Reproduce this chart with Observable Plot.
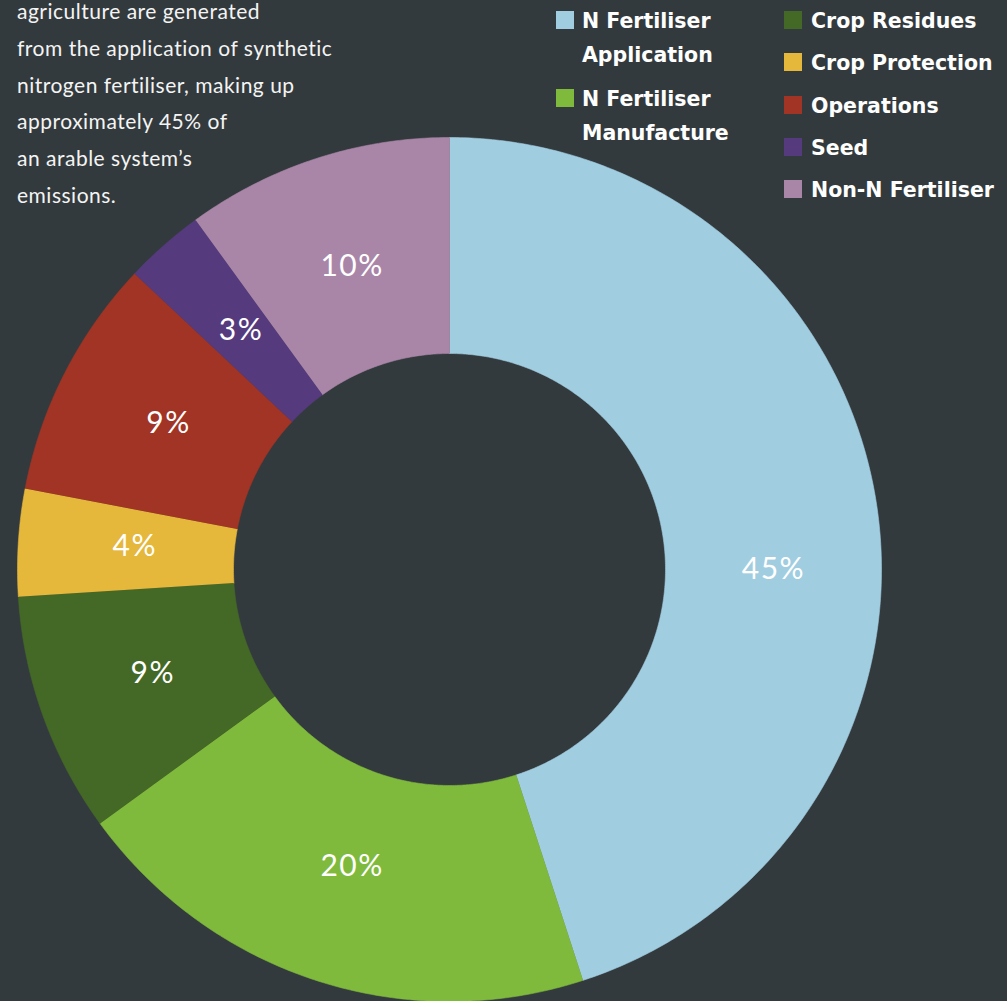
<!DOCTYPE html>
<html>
<head>
<meta charset="utf-8">
<script src="https://cdn.jsdelivr.net/npm/d3@7"></script>
<script src="https://cdn.jsdelivr.net/npm/@observablehq/plot@0.6"></script>
<style>
  html, body { margin: 0; padding: 0; background: #333a3d; width: 1007px; height: 1001px; overflow: hidden; }
  #wrap { position: relative; width: 1007px; height: 1001px; }
  #chart { position: absolute; left: 0; top: 0; }
  .note { position: absolute; left: 17px; top: -7px; color: #f4f4f4; font-family: Lato, sans-serif; font-size: 21px; letter-spacing: 0.5px; line-height: 36.8px; white-space: nowrap; }
  .leg { position: absolute; color: #ffffff; font-family: "DejaVu Sans", sans-serif; font-weight: 700; font-size: 20.5px; line-height: 34px; white-space: nowrap; }
  .sw { position: absolute; width: 18px; height: 18px; }
</style>
</head>
<body>
<div id="wrap">
  <div id="chart"></div>
  <div id="note" class="note"></div>
  <div id="legend"></div>
</div>
<script>
// ---- data ----
const categories = ["N Fertiliser Application", "N Fertiliser Manufacture", "Crop Residues", "Crop Protection", "Operations", "Seed", "Non-N Fertiliser"];
const shares = [45, 20, 9, 4, 9, 3, 10];
const colors = ["#a1cde1", "#7fba3c", "#446926", "#e5b73b", "#a13425", "#563a7e", "#a986a8"];
const legendLabels = [["N Fertiliser", "Application"], ["N Fertiliser", "Manufacture"], ["Crop Residues"], ["Crop Protection"], ["Operations"], ["Seed"], ["Non-N Fertiliser"]];
const noteLines = ["agriculture are generated", "from the application of synthetic", "nitrogen fertiliser, making up", "approximately 45% of", "an arable system\u2019s", "emissions."];

// ---- layout config ----
const innerRatio = 0.5;
const labelRadius = 0.73;
const labelAngleOverride = {"N Fertiliser Application": Math.PI / 2 + 0.01};

const pie = d3.pie().sort(null).value(d => d.share);
const table = categories.map((c, i) => ({cat: c, share: shares[i]}));
const arcs = pie(table);

const poly = [];
const labels = [];
for (const a of arcs) {
  const n = Math.max(8, Math.ceil((a.endAngle - a.startAngle) * 120));
  for (let k = 0; k <= n; k++) {
    const t = a.startAngle + (a.endAngle - a.startAngle) * k / n;
    poly.push({cat: a.data.cat, x: Math.sin(t), y: Math.cos(t)});
  }
  for (let k = n; k >= 0; k--) {
    const t = a.startAngle + (a.endAngle - a.startAngle) * k / n;
    poly.push({cat: a.data.cat, x: innerRatio * Math.sin(t), y: innerRatio * Math.cos(t)});
  }
  const mid = labelAngleOverride[a.data.cat] ?? (a.startAngle + a.endAngle) / 2;
  const r = a.data.cat in labelAngleOverride ? 0.75 : labelRadius;
  labels.push({cat: a.data.cat, text: a.data.share + "%", x: r * Math.sin(mid), y: r * Math.cos(mid)});
}

const chart = Plot.plot({
  width: 1007,
  height: 1001,
  marginLeft: 17,
  marginRight: 126,
  marginTop: 137,
  marginBottom: 0,
  x: {domain: [-1, 1], axis: null},
  y: {domain: [-1, 1], axis: null},
  color: {domain: categories, range: colors},
  style: {background: "transparent", fontFamily: "Lato, sans-serif", letterSpacing: "1.5px"},
  marks: [
    Plot.line(poly, {x: "x", y: "y", z: "cat", fill: "cat", stroke: "cat", strokeWidth: 0.6, curve: "linear"}),
    Plot.text(labels, {x: "x", y: "y", text: "text", fill: "#ffffff", fontSize: 30, fontFamily: "Lato, sans-serif", textAnchor: "middle", dy: -3})
  ]
});
document.getElementById("chart").appendChild(chart);

// note text
const note = document.getElementById("note");
note.innerHTML = noteLines.map(l => `<div>${l}</div>`).join("");

// legend
const legend = document.getElementById("legend");
const leftCol = {sx: 556, tx: 582};
const rightCol = {sx: 784, tx: 811};
const leftTops = [11, 89];
categories.forEach((c, i) => {
  let sx, tx, top;
  if (i < 2) { sx = leftCol.sx; tx = leftCol.tx; top = leftTops[i]; }
  else { sx = rightCol.sx; tx = rightCol.tx; top = 11 + (i - 2) * 42.25; }
  const sw = document.createElement("div");
  sw.className = "sw";
  sw.style.left = sx + "px"; sw.style.top = top + "px"; sw.style.background = colors[i];
  legend.appendChild(sw);
  const t = document.createElement("div");
  t.className = "leg";
  t.style.left = tx + "px"; t.style.top = (top - 7) + "px";
  t.innerHTML = legendLabels[i].map(l => `<div>${l}</div>`).join("");
  legend.appendChild(t);
});
</script>
</body>
</html>
